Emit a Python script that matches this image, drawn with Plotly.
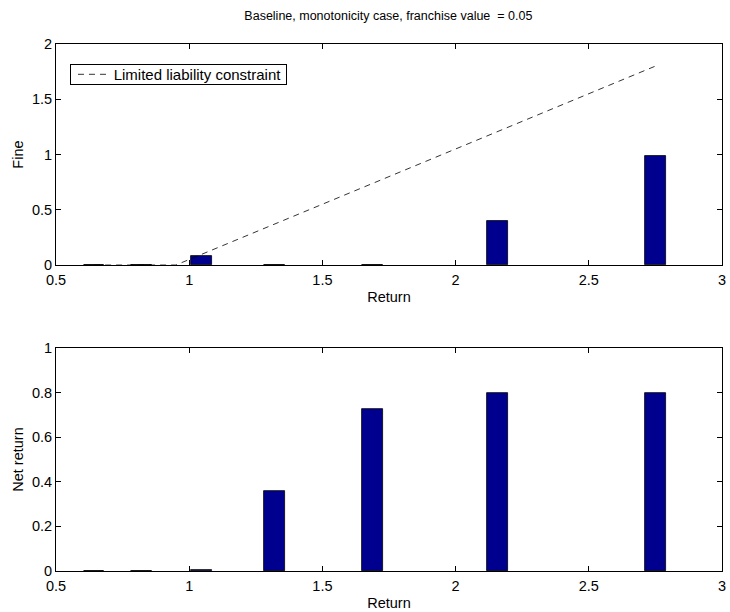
import plotly.graph_objects as go
from plotly.subplots import make_subplots

# Data
returns = [0.643, 0.82, 1.046, 1.321, 1.689, 2.158, 2.75]
fine = [0.0, 0.0, 0.08, 0.0, 0.0, 0.40, 0.99]
net_return = [0.0, 0.0, 0.003, 0.36, 0.725, 0.80, 0.80]
ll_x = [0.643, 0.82, 0.95, 1.046, 1.321, 1.689, 2.158, 2.75]
ll_y = [0.0, 0.0, 0.0, 0.096, 0.371, 0.739, 1.208, 1.80]
x_ticks = [0.5, 1, 1.5, 2, 2.5, 3]
x_ticklabels = ["0.5", "1", "1.5", "2", "2.5", "3"]
y1_ticks = [0, 0.5, 1, 1.5, 2]
y1_ticklabels = ["0", "0.5", "1", "1.5", "2"]
y2_ticks = [0, 0.2, 0.4, 0.6, 0.8, 1]
y2_ticklabels = ["0", "0.2", "0.4", "0.6", "0.8", "1"]
legend_label = "Limited liability constraint"

BAR_COLOR = "#00008F"
FONT = "Liberation Sans, Arial, Helvetica, sans-serif"
FS = 14.5
FS_TITLE = 12.5
DASH = "6px,5px"

fig = make_subplots(rows=2, cols=1, vertical_spacing=0.0)

fig.add_trace(go.Bar(x=returns, y=fine, width=0.077, marker=dict(color=BAR_COLOR, line=dict(color="black", width=0.8)),
                     showlegend=False), row=1, col=1)
fig.add_trace(go.Scatter(x=ll_x, y=ll_y, mode="lines", line=dict(color="black", width=0.8, dash=DASH),
                         name=legend_label, showlegend=False), row=1, col=1)
fig.add_trace(go.Bar(x=returns, y=net_return, width=0.077, marker=dict(color=BAR_COLOR, line=dict(color="black", width=0.8)),
                     showlegend=False), row=2, col=1)

axis_common = dict(showline=True, linecolor="black", linewidth=1, mirror="allticks", ticks="inside",
                   ticklen=5, tickcolor="black", showgrid=False, zeroline=False, automargin=False,
                   tickfont=dict(family=FONT, size=FS, color="black"))

fig.update_xaxes(range=[0.5, 3], tickvals=x_ticks, ticktext=x_ticklabels, ticklabelstandoff=2, **axis_common)
fig.update_yaxes(**axis_common)
fig.update_yaxes(range=[0, 2], tickvals=y1_ticks, ticktext=y1_ticklabels, row=1, col=1)
fig.update_yaxes(range=[0, 1], tickvals=y2_ticks, ticktext=y2_ticklabels, row=2, col=1)

# Legend box (MATLAB style, compact): framed text with a dashed line sample
fig.add_annotation(xref="paper", yref="paper", x=0.021, y=0.962, xanchor="left", yanchor="top",
                   text="\u00a0" * 10 + legend_label + "\u00a0", showarrow=False, align="left",
                   font=dict(family=FONT, size=15, color="black"),
                   bordercolor="black", borderwidth=1, borderpad=1, bgcolor="rgba(255,255,255,0)")
fig.add_shape(type="line", xref="paper", yref="paper", x0=0.033, x1=0.076, y0=0.9425, y1=0.9425,
              line=dict(color="black", width=0.8, dash=DASH))

fig.update_layout(
    width=730, height=612,
    margin=dict(l=56, r=8, t=44, b=41),
    paper_bgcolor="white", plot_bgcolor="white",
    font=dict(family=FONT, size=FS, color="black"),
    showlegend=False,
    yaxis=dict(domain=[0.5806, 1.0]),
    yaxis2=dict(domain=[0.0, 0.4231]),
    xaxis=dict(title=dict(text="Return", standoff=4, font=dict(size=FS))),
    xaxis2=dict(title=dict(text="Return", standoff=4, font=dict(size=FS))),
    yaxis_title=dict(text="Fine", standoff=4, font=dict(size=FS)),
    yaxis2_title=dict(text="Net return", standoff=4, font=dict(size=FS)),
    title=dict(text="Baseline, monotonicity case, franchise value  = 0.05", x=0.532, xanchor="center",
               y=0.975, yanchor="middle", font=dict(size=FS_TITLE)),
    bargap=0,
)

fig.write_html("out.html")
